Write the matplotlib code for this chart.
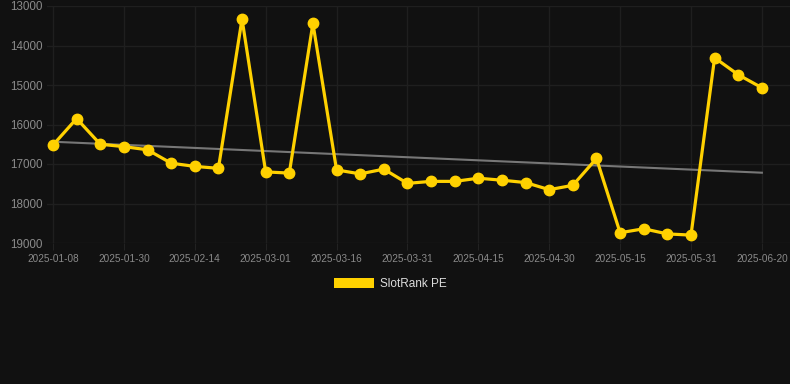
import numpy as np
import matplotlib.pyplot as plt
from matplotlib.patches import Patch

# weekly-ish snapshot dates (category axis, every 3rd one labelled)
dates = ["2025-01-08", "2025-01-15", "2025-01-23", "2025-01-30", "2025-02-04",
         "2025-02-09", "2025-02-14", "2025-02-19", "2025-02-24", "2025-03-01",
         "2025-03-06", "2025-03-11", "2025-03-16", "2025-03-21", "2025-03-26",
         "2025-03-31", "2025-04-05", "2025-04-10", "2025-04-15", "2025-04-20",
         "2025-04-25", "2025-04-30", "2025-05-05", "2025-05-10", "2025-05-15",
         "2025-05-20", "2025-05-26", "2025-05-31", "2025-06-06", "2025-06-13",
         "2025-06-20"]
rank = [16520, 15850, 16500, 16560, 16640, 16980, 17060, 17110, 13330, 17200,
        17230, 13440, 17150, 17250, 17130, 17490, 17440, 17440, 17360, 17410,
        17470, 17650, 17540, 16860, 18740, 18640, 18770, 18800, 14310, 14740,
        15070]
series_name = "SlotRank PE"
yticks = [13000, 14000, 15000, 16000, 17000, 18000, 19000]

bg = "#111111"
gold = "#FFD100"

fig = plt.figure(figsize=(7.9, 3.84), dpi=100, facecolor=bg)
ax = fig.add_axes([47/790, 1-243/384, 743/790, 237/384], facecolor=bg)

x = np.arange(len(dates))
y = np.array(rank)

# trend line
k, b = np.polyfit(x, y, 1)
ax.plot(x, k*x + b, color="#777777", lw=1.5, zorder=2)

ax.plot(x, y, color=gold, lw=2.3, marker="o", ms=7.5,
        solid_joinstyle="miter", zorder=3)

ax.set_ylim(19000, 13000)
ax.set_xlim(-0.254, 31.19)
ax.set_yticks(yticks)
ax.set_xticks(x[::3])
ax.set_xticklabels(dates[::3])

ax.grid(True, color="#1f1f1f", lw=1.0)
ax.set_axisbelow(True)
for s in ax.spines.values():
    s.set_visible(False)
ax.tick_params(axis="y", length=0, pad=3, labelsize=8.4, labelcolor="#8a8a8a")
ax.tick_params(axis="x", length=5, color="#222222", pad=3, labelsize=7.2,
               labelcolor="#8a8a8a")
for t in ax.get_xticklabels() + ax.get_yticklabels():
    t.set_fontfamily("Liberation Sans")

leg = fig.legend([Patch(facecolor=gold)], [series_name], loc="center",
                 bbox_to_anchor=(390/790, 1-284/384), frameon=False,
                 handlelength=3.4, handleheight=1.0, handletextpad=0.5,
                 prop={"family": "Liberation Sans", "size": 8.5})
for t in leg.get_texts():
    t.set_color("#dddddd")

fig.savefig("out.png", dpi=100, facecolor=bg)
